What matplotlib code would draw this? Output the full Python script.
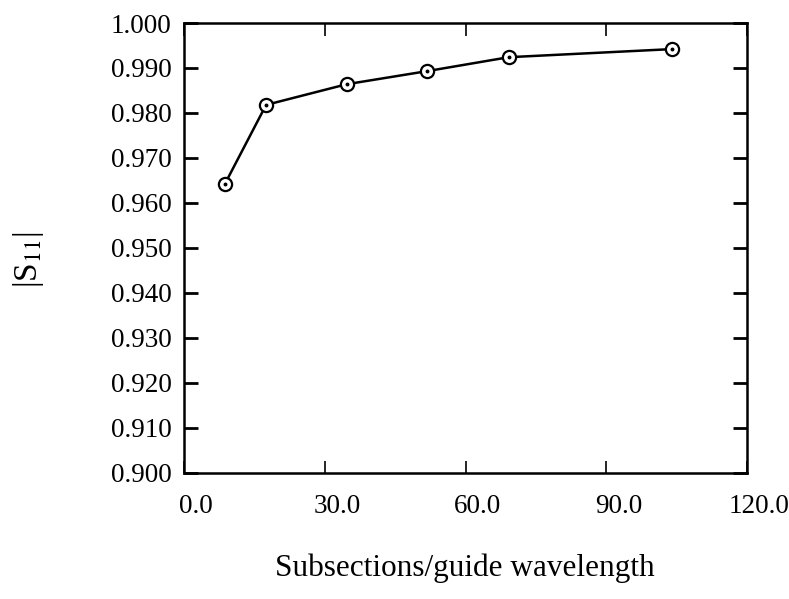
import matplotlib
matplotlib.use("Agg")
import matplotlib.pyplot as plt
import matplotlib.transforms as mtransforms

# data
subsections = [8.7, 17.5, 34.7, 51.8, 69.2, 104.0]
s11_mag = [0.9642, 0.9818, 0.9864, 0.9893, 0.9924, 0.9942]

x_ticks = [0.0, 30.0, 60.0, 90.0, 120.0]
y_ticks = [0.900, 0.910, 0.920, 0.930, 0.940, 0.950, 0.960, 0.970, 0.980, 0.990, 1.000]

plt.rcParams["font.family"] = ["Liberation Serif", "DejaVu Serif"]
plt.rcParams["mathtext.fontset"] = "stix"

fig = plt.figure(figsize=(7.89, 5.99), dpi=100)
ax = fig.add_axes([0.2332, 0.2104, 0.7136, 0.7512])

ax.plot(subsections, s11_mag, color="black", lw=1.8, zorder=2)
ax.plot(subsections, s11_mag, ls="none", marker="o", ms=9.5, mfc="white",
        mec="black", mew=1.6, zorder=3)
ax.plot(subsections, s11_mag, ls="none", marker="o", ms=1.8,
        color="black", zorder=4)

ax.set_xlim(0, 120)
ax.set_ylim(0.9, 1.0)
ax.set_xticks(x_ticks)
ax.set_xticklabels([f"{v:.1f}" for v in x_ticks])
ax.set_yticks(y_ticks)
ax.set_yticklabels([f"{v:.3f}" for v in y_ticks])

for sp in ax.spines.values():
    sp.set_linewidth(1.8)

ax.tick_params(axis="x", direction="in", top=True, length=9, width=1.2,
               labelsize=19.5, pad=15)
ax.tick_params(axis="y", direction="in", right=True, length=10, width=2,
               labelsize=19.5, pad=9)

# x labels in the scan sit a little right of their ticks
shift = mtransforms.ScaledTranslation(12 / 100, 0, fig.dpi_scale_trans)
for lbl in ax.get_xticklabels():
    lbl.set_transform(lbl.get_transform() + shift)

fig.text(28 / 789, 1 - 260 / 599, r"|S$_{11}$|", rotation=90,
         ha="center", va="center", fontsize=24)
fig.text(465 / 789, 1 - 568 / 599, "Subsections/guide wavelength",
         ha="center", va="center", fontsize=22.5)

fig.savefig("out.png", dpi=100)
